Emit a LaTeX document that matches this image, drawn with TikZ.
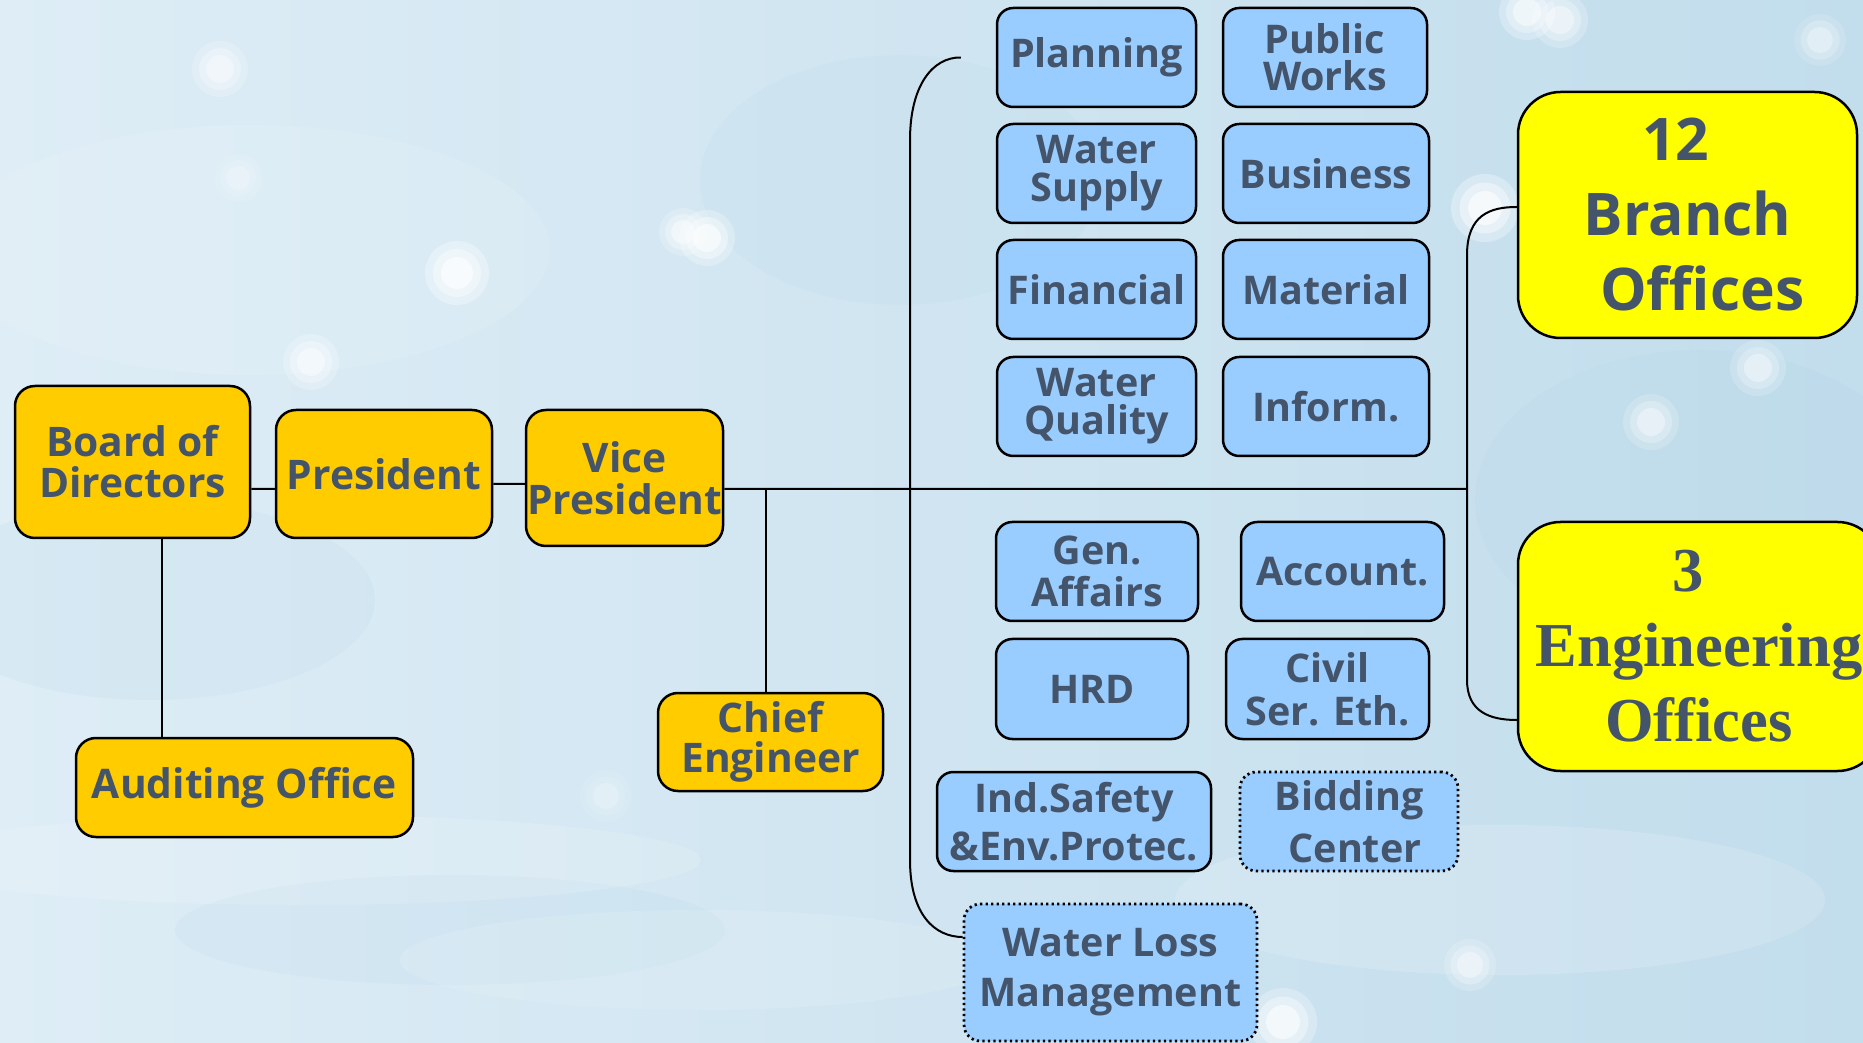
\documentclass[tikz,border=0pt]{standalone}
\usepackage{fontspec}
\IfFontExistsTF{Noto Sans Bold}
  {\setmainfont{Noto Sans}[BoldFont={Noto Sans Bold}]}
  {\IfFontExistsTF{Open Sans Bold}
     {\setmainfont{Open Sans}[BoldFont={Open Sans Bold}]}
     {\setmainfont{Noto Sans}[BoldFont={Noto Sans}, BoldFeatures={FakeBold=2}]}}
\newfontfamily\serifbf{Liberation Serif}
\definecolor{txt}{HTML}{44546A}
\definecolor{gold}{HTML}{FFCC00}
\definecolor{lblue}{HTML}{99CCFF}
\definecolor{yel}{HTML}{FFFF00}
\definecolor{bgA}{RGB}{222,237,246}
\definecolor{bgB}{RGB}{194,221,236}
\definecolor{bgC}{RGB}{178,212,231}
\tikzset{
  base/.style={draw=black, line width=1pt, text=txt, align=center, inner sep=0pt},
  goldbox/.style={base, fill=gold, rounded corners=8pt},
  bluebox/.style={base, fill=lblue, rounded corners=6.5pt},
  dotbox/.style={bluebox, line width=1.1pt, dash pattern=on 0.9pt off 1.3pt},
  bigbox/.style={base, fill=yel, rounded corners=17pt},
  conn/.style={draw=black, line width=0.8pt},
  sz/.style 2 args={minimum width=#1*0.4pt, minimum height=#2*0.4pt},
  gf/.style={font=\fontsize{16.3}{#1}\selectfont\bfseries},
  bf/.style={font=\fontsize{15.8}{#1}\selectfont\bfseries},
}
\newcommand\bokehspot[4]{%
  \fill[white, opacity=#4*0.3] (#1,#2) circle[radius=#3*0.4pt];
  \fill[white, opacity=#4*0.4] (#1,#2) circle[radius=#3*0.3pt];
  \fill[white, opacity=#4*0.6] (#1,#2) circle[radius=#3*0.2pt];
}
\begin{document}
\begin{tikzpicture}[x=0.4pt, y=-0.4pt]
\useasboundingbox (0,0) rectangle (1863,1043);
\clip (0,0) rectangle (1863,1043);
% background
\shade[left color=bgA, right color=bgB] (0,0) rectangle (1863,1043);
\fill[bgC, opacity=0.15] (150,600) ellipse[x radius=90pt, y radius=40pt];
\fill[bgC, opacity=0.12] (900,180) ellipse[x radius=80pt, y radius=50pt];
\fill[bgC, opacity=0.18] (1700,500) ellipse[x radius=90pt, y radius=60pt];
\fill[bgC, opacity=0.15] (450,930) ellipse[x radius=110pt, y radius=22pt];
\fill[white, opacity=0.15] (300,860) ellipse[x radius=160pt, y radius=18pt];
\fill[white, opacity=0.12] (700,960) ellipse[x radius=120pt, y radius=20pt];
\fill[white, opacity=0.15] (1500,900) ellipse[x radius=130pt, y radius=30pt];
\fill[white, opacity=0.1] (250,250) ellipse[x radius=120pt, y radius=50pt];
\bokehspot{457}{273}{32}{1}
\bokehspot{707}{238}{28}{0.9}
\bokehspot{683}{232}{24}{0.7}
\bokehspot{311}{362}{28}{0.7}
\bokehspot{220}{69}{28}{0.6}
\bokehspot{238}{178}{24}{0.3}
\bokehspot{1485}{208}{34}{1}
\bokehspot{1651}{422}{28}{0.6}
\bokehspot{1758}{368}{28}{0.6}
\bokehspot{1527}{12}{28}{0.8}
\bokehspot{1560}{20}{28}{0.7}
\bokehspot{1283}{1022}{34}{0.9}
\bokehspot{1470}{965}{26}{0.6}
\bokehspot{606}{796}{26}{0.3}
\bokehspot{1820}{40}{26}{0.5}
% gold nodes
\node[goldbox, sz={235}{152}, gf=16.4] (board) at (132.5,462) {Board of\\Directors};
\node[goldbox, sz={216}{128}, gf=16.4] (pres) at (384,474) {President};
\node[goldbox, sz={197}{136}, gf=16.8] (vp) at (624.5,478) {Vice\\President};
\node[goldbox, sz={337}{99}, gf=16.4] (audit) at (244.5,787.5) {Auditing Office};
\node[goldbox, sz={225}{98}, gf=16] (chief) at (770.5,742) {Chief\\Engineer};
% blue nodes
\node[bluebox, sz={199}{99}, bf=14] (plan) at (1096.5,57.5) {Planning};
\node[bluebox, sz={204}{99}, bf=14.8] (pub) at (1325,57.5) {Public\\Works};
\node[bluebox, sz={199}{99}, bf=15.2] (wsup) at (1096.5,173.5) {Water\\Supply};
\node[bluebox, sz={206}{99}, bf=14] (bus) at (1326,173.5) {Business};
\node[bluebox, sz={199}{99}, bf=14] (fin) at (1096.5,289.5) {Financial};
\node[bluebox, sz={206}{99}, bf=14] (mat) at (1326,289.5) {Material};
\node[bluebox, sz={199}{99}, bf=15.2] (wq) at (1096.5,406.5) {Water\\Quality};
\node[bluebox, sz={206}{99}, bf=14] (inf) at (1326,406.5) {Inform.};
\node[bluebox, sz={202}{99}, bf=16.8] (gen) at (1097,571.5) {Gen.\\Affairs};
\node[bluebox, sz={203}{99}, bf=14] (acc) at (1342.5,571.5) {Account.};
\node[bluebox, sz={192}{100}, bf=14] (hrd) at (1092,689) {HRD};
\node[bluebox, sz={203}{100}, bf=17.2] (civ) at (1327.5,689) {Civil\\Ser. Eth.};
\node[bluebox, sz={274}{99}, bf=19.2] (ind) at (1074,821.5) {Ind.Safety\\\&Env.Protec.};
\node[dotbox, sz={218}{99}, bf=20.8] (bid) at (1349,821.5) {Bidding\\\hspace*{0.3em}Center};
\node[dotbox, sz={293}{137}, bf=20] (wlm) at (1110.5,972.5) {Water Loss\\Management};
% big yellow nodes
\node[bigbox, sz={339}{246}, font=\fontsize{23.5}{30}\selectfont\bfseries] (branch) at (1687.5,215) {12\hspace*{0.4em}\\Branch\\\hspace*{0.5em}Offices};
\node[bigbox, sz={362}{249}, font=\fontsize{25}{30}\selectfont\serifbf\bfseries] (eng) at (1699,646.5) {3\hspace*{0.35em}\\Engineering\\Offices};
% connectors
\coordinate (jR) at (1467,489);
\draw[conn] ([yshift=-10.8pt]board.east) -- ([yshift=-6pt]pres.west);
\draw[conn] ([yshift=-4pt]pres.east) -- ([yshift=-2.4pt]vp.west);
\draw[conn] ([yshift=-4.4pt]vp.east) -- (jR);
\draw[conn] (board.south -| 162,0) -- (audit.north -| 162,0);
\draw[conn] ([xshift=-2pt]chief.north) -- ([xshift=-2pt]chief.north |- jR);
\draw[conn] ([xshift=-14pt]plan.west) .. controls (933,57) and (910,85) .. (910,140)
  -- (910,860) .. controls (910,915) and (935,937) .. ([yshift=14.2pt]wlm.west);
\draw[conn] ([yshift=3.2pt]branch.west) .. controls (1490,207) and (1467,215) .. (1467,255)
  -- (1467,680) .. controls (1467,712) and (1490,720) .. ([yshift=-29.4pt]eng.west);
\end{tikzpicture}
\end{document}
